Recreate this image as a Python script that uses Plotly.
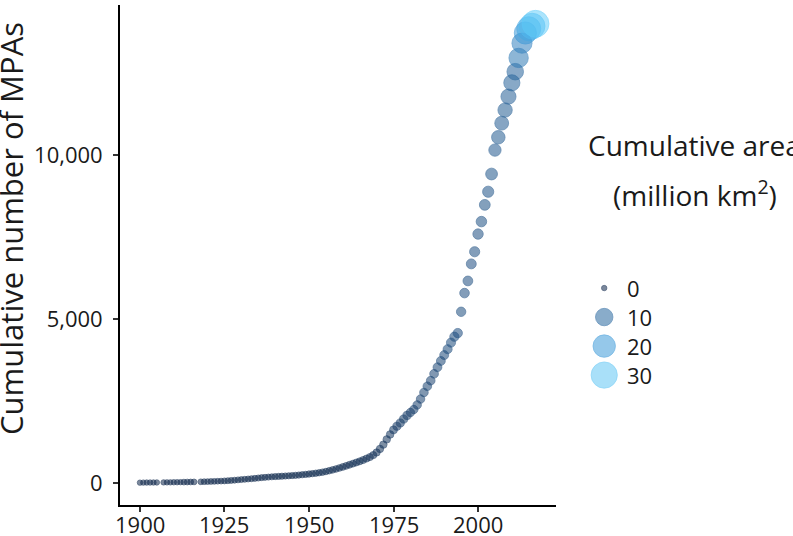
import numpy as np
import plotly.graph_objects as go

# data
years = ([1900, 1901, 1902, 1903, 1904, 1905]
         + list(range(1907, 1917))
         + list(range(1918, 2018)))

n_mpas = [10, 12, 13, 14, 15, 16,
          18, 19, 20, 22, 23, 25, 27, 29, 31, 33,
          36, 39, 42, 46, 50, 54, 58, 63, 70, 78, 86, 95, 104,
          113, 122, 131, 141, 152, 163, 172, 180, 188, 195,
          201, 207, 213, 219, 225, 233, 242, 252, 262, 273,
          285, 298, 312, 330, 350, 375, 400, 428, 458, 490,
          522, 556, 590, 625, 660, 700, 745, 790, 850, 930,
          1040, 1170, 1330, 1480, 1620, 1730, 1830, 1950, 2060, 2150,
          2240, 2380, 2560, 2760, 2950, 3120, 3330, 3530, 3720, 3900,
          4080, 4280, 4460, 4570, 5220, 5790, 6160, 6680, 7050, 7590,
          7970, 8480, 8880, 9420, 10150, 10540, 10970, 11370, 11780, 12200,
          12540, 12960, 13410, 13720, 13850, 13930, 14000]

area_mkm2 = [0.00, 0.00, 0.00, 0.00, 0.00, 0.00,
             0.00, 0.00, 0.00, 0.00, 0.00, 0.00, 0.01, 0.01, 0.01, 0.01,
             0.01, 0.01, 0.01, 0.01, 0.01, 0.01, 0.01, 0.02, 0.02, 0.02, 0.02, 0.02, 0.02,
             0.02, 0.02, 0.03, 0.03, 0.03, 0.03, 0.03, 0.03, 0.03, 0.04,
             0.04, 0.04, 0.04, 0.04, 0.04, 0.05, 0.05, 0.05, 0.05, 0.06,
             0.06, 0.07, 0.07, 0.08, 0.08, 0.09, 0.10, 0.10, 0.11, 0.12,
             0.13, 0.14, 0.15, 0.16, 0.17, 0.18, 0.19, 0.20, 0.22, 0.24,
             0.26, 0.28, 0.30, 0.32, 0.45, 0.48, 0.50, 0.53, 0.56, 0.58,
             0.60, 0.62, 0.65, 0.68, 0.70, 0.72, 0.75, 0.78, 0.80, 0.85,
             0.90, 0.95, 1.00, 1.05, 1.10, 1.20, 1.30, 1.40, 1.55, 1.70,
             1.80, 2.00, 2.30, 2.80, 3.30, 4.50, 4.90, 5.50, 6.50, 8.00,
             8.60, 13.5, 15.0, 19.5, 24.0, 28.5, 32.0]

legend_breaks = [0, 10, 20, 30]
x_ticks = [1900, 1925, 1950, 1975, 2000]
y_ticks = [0, 5000, 10000]

FONT = "Open Sans"
TXT = "#1a1a1a"
a_min, a_max = min(area_mkm2), max(area_mkm2)

# ggplot-like area scale (range 1..6) turned into pixels
def size_scale(v):
    r = (np.asarray(v, dtype=float) - a_min) / (a_max - a_min)
    s = 1 + 5 * np.sqrt(np.clip(r, 0, 1))
    return 4.3 * s + 1.1

# dark navy -> steel blue -> light sky blue, semi transparent
cscale = [
    [0.00, "rgba(15,40,75,0.78)"],
    [0.03, "rgba(28,76,126,0.78)"],
    [0.10, "rgba(33,88,142,0.78)"],
    [0.30, "rgba(40,102,158,0.78)"],
    [0.60, "rgba(52,148,214,0.75)"],
    [1.00, "rgba(92,202,250,0.72)"],
]

def marker_for(vals):
    return dict(
        size=size_scale(vals),
        color=vals, colorscale=cscale, cmin=a_min, cmax=a_max,
        line=dict(width=1, color=vals, colorscale=cscale, cmin=a_min, cmax=a_max),
    )

fig = go.Figure()

fig.add_trace(go.Scatter(
    x=years, y=n_mpas, mode="markers",
    marker=marker_for(area_mkm2),
    showlegend=False, hoverinfo="skip",
))

# size/colour legend drawn on its own little axis
fig.add_trace(go.Scatter(
    x=[0.175] * len(legend_breaks), y=legend_breaks, mode="markers",
    marker=marker_for(legend_breaks),
    xaxis="x2", yaxis="y2", showlegend=False, hoverinfo="skip",
))
for b in legend_breaks:
    fig.add_annotation(
        x=0.266, y=b, xref="x2", yref="y2", text=str(b), showarrow=False,
        xanchor="left", yanchor="middle", font=dict(size=22, color=TXT),
    )

fig.add_annotation(x=0.854, y=0.72, xref="paper", yref="paper",
                   text="Cumulative area", showarrow=False,
                   xanchor="center", yanchor="middle",
                   font=dict(size=28, color=TXT))
fig.add_annotation(x=0.854, y=0.624, xref="paper", yref="paper",
                   text="(million km<sup>2</sup>)", showarrow=False,
                   xanchor="center", yanchor="middle",
                   font=dict(size=28, color=TXT))
fig.add_annotation(x=-0.162, y=0.554, xref="paper", yref="paper",
                   text="Cumulative number of MPAs", showarrow=False,
                   textangle=-90, xanchor="center", yanchor="middle",
                   font=dict(size=31, color=TXT))

# x tick labels sit closer to the axis than plotly allows
for t in x_ticks:
    fig.add_annotation(x=t, y=-0.038, xref="x", yref="paper", text=str(t),
                       showarrow=False, xanchor="center", yanchor="middle",
                       font=dict(size=22, color=TXT))

axis_style = dict(
    showgrid=False, zeroline=False, showline=True, linecolor="black",
    linewidth=1.8, ticks="outside", ticklen=5, tickwidth=1.5,
    tickcolor="#333333", tickfont=dict(size=22, color=TXT),
    automargin=False,
)

fig.update_layout(
    width=793, height=536,
    margin=dict(l=120, r=0, t=5, b=31, autoexpand=False),
    paper_bgcolor="white", plot_bgcolor="white",
    font=dict(family=FONT),
    xaxis=dict(domain=[0, 0.6478], range=[1894.1, 2023.05],
               tickvals=x_ticks, showticklabels=False, **axis_style),
    yaxis=dict(range=[-671, 14573], tickvals=y_ticks, tickformat=",d",
               ticklabelstandoff=6, **axis_style),
    xaxis2=dict(domain=[0.66, 1.0], range=[0, 1], visible=False),
    yaxis2=dict(domain=[0, 1], range=[74.8, -97.6], visible=False,
                anchor="x2"),
)

# drop the browser's default body margin so the figure sits at 0,0
fig.write_html("out.html", config={"displayModeBar": False},
               post_script="document.body.style.margin='0';")
